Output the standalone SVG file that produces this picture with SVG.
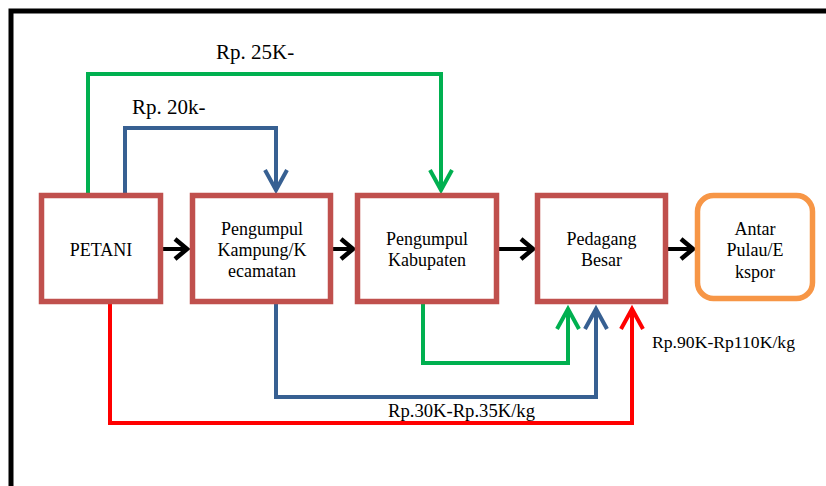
<svg xmlns="http://www.w3.org/2000/svg" width="826" height="486" viewBox="0 0 826 486">
<style>
.box{fill:#fff;stroke:#C0504D;stroke-width:5.5}
.exp{fill:#fff;stroke:#F79646;stroke-width:5.5}
.t{font-family:'Liberation Serif','DejaVu Serif',serif;font-size:18px;fill:#000;text-anchor:middle}
.lbl{font-family:'Liberation Serif','DejaVu Serif',serif;fill:#000}
.c{fill:none;stroke-width:4}
.g{stroke:#00B050}.b{stroke:#376092}.r{stroke:#FF0000}.k{stroke:#000}
</style>
<defs>
<marker id="mg" markerUnits="userSpaceOnUse" markerWidth="40" markerHeight="40" refX="0" refY="0" orient="auto" overflow="visible"><path d="M-20,-11 L0,0 L-20,11" fill="none" stroke="#00B050" stroke-width="4"/></marker>
<marker id="mb" markerUnits="userSpaceOnUse" markerWidth="40" markerHeight="40" refX="0" refY="0" orient="auto" overflow="visible"><path d="M-20,-11 L0,0 L-20,11" fill="none" stroke="#376092" stroke-width="4"/></marker>
<marker id="mr" markerUnits="userSpaceOnUse" markerWidth="40" markerHeight="40" refX="0" refY="0" orient="auto" overflow="visible"><path d="M-20,-11 L0,0 L-20,11" fill="none" stroke="#FF0000" stroke-width="4"/></marker>
<marker id="mk" markerUnits="userSpaceOnUse" markerWidth="40" markerHeight="40" refX="0" refY="0" orient="auto" overflow="visible"><path d="M-12,-10 L0,0 L-12,10" fill="none" stroke="#000" stroke-width="4.5"/></marker>
</defs>
<rect x="11" y="11" width="830" height="490" fill="#fff" stroke="#000" stroke-width="5"/>
<g id="connectors">
<path class="c g" d="M88,195 V74 H441 V190" marker-end="url(#mg)"/>
<path class="c b" d="M125,195 V128 H276 V190" marker-end="url(#mb)"/>
<path class="c r" d="M110,304 V423 H632 V309" marker-end="url(#mr)"/>
<path class="c b" d="M276,304 V397 H596 V309" marker-end="url(#mb)"/>
<path class="c g" d="M423,304 V363 H568 V309" marker-end="url(#mg)"/>
<path class="c k" d="M163,249 H187" marker-end="url(#mk)"/>
<path class="c k" d="M333,249 H353" marker-end="url(#mk)"/>
<path class="c k" d="M499,249 H533" marker-end="url(#mk)"/>
<path class="c k" d="M666,249 H693" marker-end="url(#mk)"/>
</g>
<g id="petani"><rect class="box" x="41.5" y="195.5" width="119" height="106"/><text class="t" x="101" y="256">PETANI</text></g>
<g id="pengumpul-kampung"><rect class="box" x="192.5" y="195.5" width="138" height="106"/><text class="t" x="262" y="235">Pengumpul</text><text class="t" x="262" y="256">Kampung/K</text><text class="t" x="262" y="277">ecamatan</text></g>
<g id="pengumpul-kabupaten"><rect class="box" x="357.5" y="195.5" width="139" height="106"/><text class="t" x="427" y="245">Pengumpul</text><text class="t" x="427" y="266">Kabupaten</text></g>
<g id="pedagang-besar"><rect class="box" x="537.5" y="195.5" width="128" height="106"/><text class="t" x="601.5" y="245">Pedagang</text><text class="t" x="601.5" y="266">Besar</text></g>
<g id="antar-pulau"><rect class="exp" x="697.5" y="195.5" width="115" height="103" rx="16"/><text class="t" x="755" y="235">Antar</text><text class="t" x="755" y="256">Pulau/E</text><text class="t" x="755" y="278">kspor</text></g>
<g id="labels">
<text class="lbl" x="216" y="59" font-size="21">Rp. 25K-</text>
<text class="lbl" x="132" y="114" font-size="21">Rp. 20k-</text>
<text class="lbl" x="388" y="417" font-size="19" textLength="147" lengthAdjust="spacingAndGlyphs">Rp.30K-Rp.35K/kg</text>
<text class="lbl" x="652" y="348" font-size="17" textLength="143" lengthAdjust="spacingAndGlyphs">Rp.90K-Rp110K/kg</text>
</g>
</svg>
